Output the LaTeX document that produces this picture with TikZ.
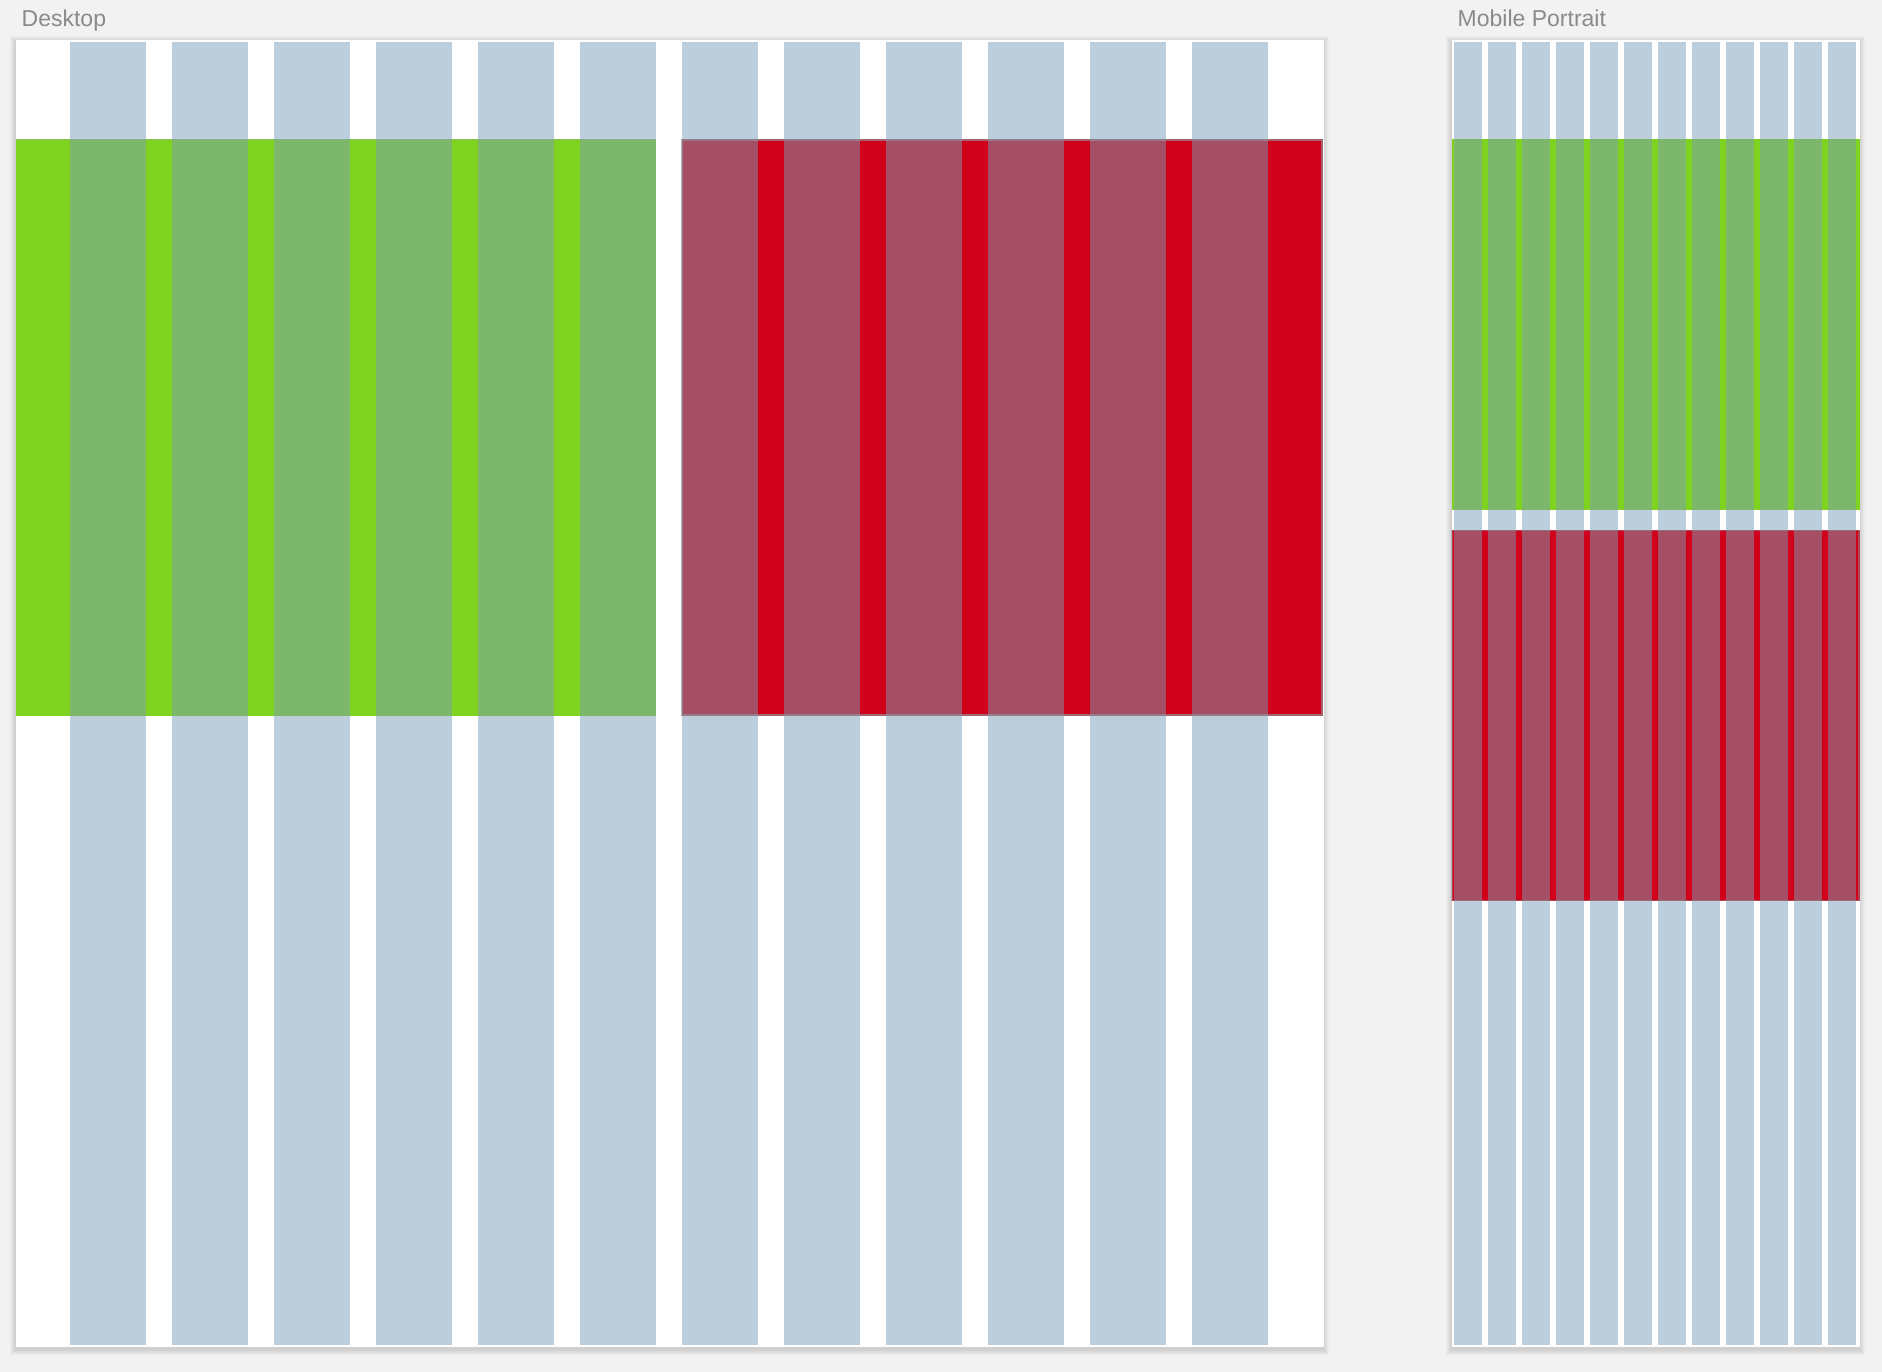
\documentclass[tikz,border=0pt]{standalone}
\usepackage{fontspec}
\setmainfont{Liberation Sans}
\definecolor{bg}{HTML}{F2F2F2}
\definecolor{colgray}{HTML}{BCCEDB}
\definecolor{brightgreen}{HTML}{7ED321}
\definecolor{overgreen}{HTML}{7DB76B}
\definecolor{brightred}{HTML}{D0021B}
\definecolor{overred}{HTML}{A44F66}
\definecolor{labelgray}{HTML}{8A8A8A}
\definecolor{bandedge}{HTML}{8E8E96}
\tikzset{
  artboard/.style={fill=white},
  shadowbox/.style={fill=black,fill opacity=0.022},
  column/.style={fill=colgray},
  greenband/.style={fill=brightgreen},
  redband/.style={fill=brightred},
  greenover/.style={fill=overgreen},
  redover/.style={fill=overred},
  bandline/.style={draw=bandedge,line width=1.2pt,draw opacity=0.7},
  boardlabel/.style={anchor=base west,inner sep=0pt,text=labelgray,font=\fontsize{23}{26}\selectfont}
}
\begin{document}
\begin{tikzpicture}[x=1pt,y=-1pt]
\useasboundingbox (0,0) rectangle (1882,1372);
\fill[bg] (0,0) rectangle (1882,1372);
% labels
\node[boardlabel] (desktoplabel) at (21.5,27) {Desktop};
\node[boardlabel] (mobilelabel) at (1457.5,27) {Mobile Portrait};
% soft shadows
\foreach \d in {0.5,1.5,...,5.5}{
  \fill[shadowbox] (15.5-\d,40-\d+2) rectangle (1323.5+\d,1347+\d+2);
  \fill[shadowbox] (1451.5-\d,40-\d+2) rectangle (1859.5+\d,1347+\d+2);
}
% ===== Desktop =====
\fill[artboard] (15.5,40) rectangle (1323.5,1347);
\foreach \i in {0,...,11}{
  \fill[column] (69.5+\i*102,42.5) rectangle (146+\i*102,1345);
}
\fill[greenband] (15.5,139.5) rectangle (656,715.5);
\foreach \i in {0,...,5}{
  \fill[greenover] (69.5+\i*102,139.5) rectangle (146+\i*102,715.5);
}
\fill[redband] (681.5,139.5) rectangle (1322.5,715.5);
\foreach \i in {6,...,11}{
  \fill[redover] (69.5+\i*102,139.5) rectangle (146+\i*102,715.5);
}
\draw[bandline] (682,140) rectangle (1322,715);
\draw[draw=colgray!80!black,line width=0.8pt,draw opacity=0.4] (15.5,139.5) -- (656,139.5);
% ===== Mobile =====
\fill[artboard] (1451.5,40) rectangle (1859.5,1347);
\foreach \j in {0,...,11}{
  \fill[column] (1454+\j*34,42.5) rectangle (1481.7+\j*34,1345);
}
\fill[greenband] (1451.5,139.5) rectangle (1859.5,510);
\foreach \j in {0,...,11}{
  \fill[greenover] (1454+\j*34,139.5) rectangle (1481.7+\j*34,510);
}
\fill[redband] (1451.5,530) rectangle (1859.5,901);
\foreach \j in {0,...,11}{
  \fill[redover] (1454+\j*34,530) rectangle (1481.7+\j*34,901);
}
\draw[bandline,draw opacity=0.5] (1452,530.5) rectangle (1859,900.5);
\end{tikzpicture}
\end{document}
